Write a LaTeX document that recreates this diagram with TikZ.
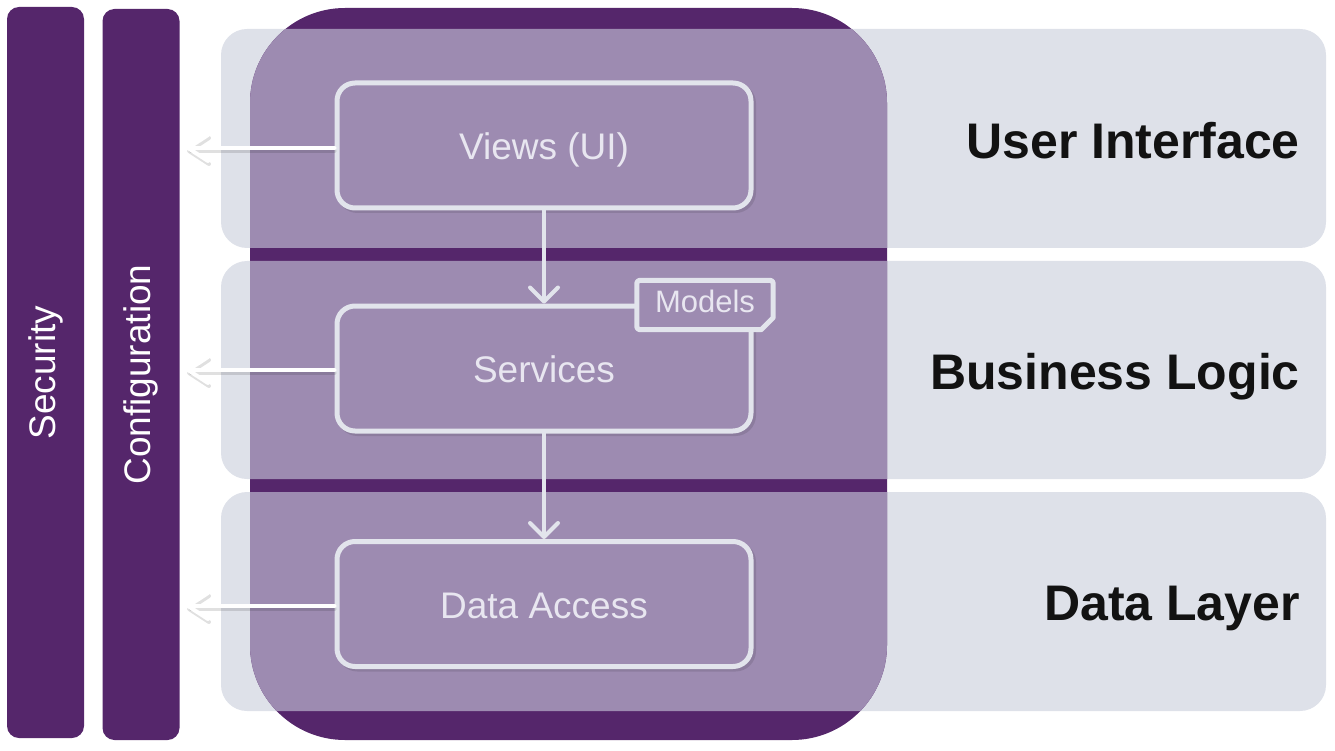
\documentclass[tikz,border=0pt]{standalone}
\usepackage{fontspec}
\setmainfont{Liberation Sans}
\usetikzlibrary{arrows.meta,calc}
\definecolor{dpurple}{HTML}{55266B}
\definecolor{bandc}{HTML}{DEE1E9}
\definecolor{mixc}{HTML}{9D8BB1}
\definecolor{linec}{HTML}{E2E4EC}
\definecolor{textc}{HTML}{E8E6F0}
\tikzset{
  bar/.style={fill=dpurple, draw=none, rounded corners=12, minimum width=77, minimum height=731, inner sep=0},
  bartext/.style={rotate=90, text=white, inner sep=0, font=\fontsize{37}{40}\selectfont},
  band/.style={fill=bandc, rounded corners=26},
  layerbox/.style={draw=linec, line width=5, fill=mixc, rounded corners=18, minimum width=414, minimum height=125, inner sep=0},
  boxtext/.style={anchor=base, inner sep=0, text=textc, font=\fontsize{37}{40}\selectfont},
  layerlabel/.style={anchor=base east, inner sep=0, font=\fontsize{50}{54}\selectfont\bfseries, text=black!93},
  flow/.style={draw=linec, line width=4, line cap=round, -{Straight Barb[length=14, width=28, line width=4, line cap=round, line join=round]}},
  side/.style={draw=white, line width=4, line cap=round, -{Straight Barb[length=20, width=26, line width=4, line cap=round, line join=round]}},
  sideshadow/.style={draw=black, draw opacity=0.12, line width=4, line cap=round, -{Straight Barb[length=20, width=26, line width=4, line cap=round, line join=round]}},
  boxshadow/.style={draw=black, draw opacity=0.10, line width=5, rounded corners=18},
}
\begin{document}
\begin{tikzpicture}[x=1pt,y=-1pt]
\useasboundingbox (0,0) rectangle (1335,751);
% bands
\fill[band] (221,29) rectangle (1326,248);
\fill[band] (221,261) rectangle (1326,479);
\fill[band] (221,492) rectangle (1326,711);
% big container
\fill[dpurple, rounded corners=95] (250,8) rectangle (887,740);
\begin{scope}
  \clip[rounded corners=95] (250,8) rectangle (887,740);
  \fill[mixc, rounded corners=26] (221,29) rectangle (1326,248);
  \fill[mixc, rounded corners=26] (221,261) rectangle (1326,479);
  \fill[mixc, rounded corners=26] (221,492) rectangle (1326,711);
\end{scope}
% side bars
\node[bar] (sec) at (45.5,372.5) {};
\node[bartext] (sectext) at (sec.center) {Security};
\node[bar] (conf) at (141,374.5) {};
\node[bartext] (conftext) at (conf.center) {Configuration};
% layer labels
\node[layerlabel] (ui) at (1300,159) {User Interface};
\node[layerlabel] (bl) at (1300,389) {Business Logic};
\node[layerlabel] (dl) at (1300,620) {Data Layer};
% box shadows
\draw[boxshadow] (339.5,85.5) rectangle (753.5,210.5);
\draw[boxshadow] (339.5,308.5) rectangle (753.5,433.5);
\draw[boxshadow] (339.5,544) rectangle (753.5,669);
% boxes
\node[layerbox] (views) at (544,145.5) {};
\node[boxtext] (viewst) at ($(views.center)+(0,14)$) {Views (UI)};
\node[layerbox] (services) at (544,368.5) {};
\node[boxtext] (servicest) at ($(services.center)+(0,14)$) {Services};
\node[layerbox] (data) at (544,604) {};
\node[boxtext] (datat) at ($(data.center)+(0,14.5)$) {Data Access};
% models tag
\node[minimum width=136, minimum height=49, inner sep=0] (models) at (705,305) {};
\draw[draw=linec, line width=5, line join=round, fill=mixc]
  ($(models.north west)+(0,3)$) [rounded corners=3] -- (models.north west) -- (models.north east) [sharp corners] -- ($(models.south east)+(0,-12)$) -- ($(models.south east)+(-12,0)$) [rounded corners=3] -- (models.south west) [sharp corners] -- cycle;
\node[anchor=base, inner sep=0, text=textc, font=\fontsize{31}{34}\selectfont] (modelst) at (705,312) {Models};
% flow arrows
\draw[flow] (views.south) -- (services.north);
\draw[flow] (services.south) -- (data.north);
% side arrows
\coordinate (c1) at (186,148);
\coordinate (c2) at (186,370);
\coordinate (c3) at (186,606);
\coordinate (s1) at (187,151);
\coordinate (s2) at (187,373);
\coordinate (s3) at (187,609);
\draw[sideshadow] (views.west |- s1) -- (s1);
\draw[sideshadow] (services.west |- s2) -- (s2);
\draw[sideshadow] (data.west |- s3) -- (s3);
\draw[side] (views.west |- c1) -- (c1);
\draw[side] (services.west |- c2) -- (c2);
\draw[side] (data.west |- c3) -- (c3);
\end{tikzpicture}
\end{document}
